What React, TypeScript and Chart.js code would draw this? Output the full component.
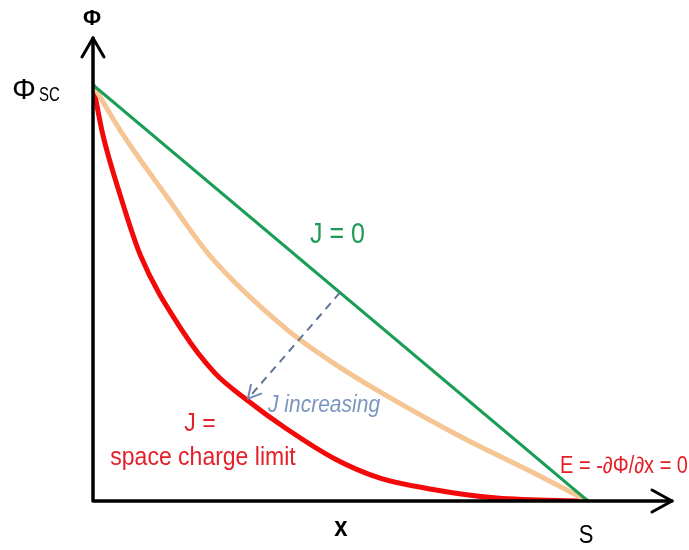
import React, { useEffect, useRef } from "react";
import { Chart, registerables } from "chart.js";

Chart.register(...registerables);

// Position along the gap (x / S) and normalized potential (Φ / Φsc)
const greenX = [0, 1];
const greenY = [1, 0];

const tanX = [0, 0.061, 0.147, 0.236, 0.394, 0.479, 0.586, 0.747, 0.883, 1];
const tanY = [1, 0.88, 0.735, 0.59, 0.41, 0.337, 0.258, 0.152, 0.072, 0];

const redX = [0, 0.02, 0.055, 0.096, 0.18, 0.246, 0.313, 0.388, 0.489, 0.58, 0.681, 0.816, 1];
const redY = [1, 0.88, 0.735, 0.59, 0.41, 0.308, 0.241, 0.176, 0.101, 0.055, 0.029, 0.007, 0];

const arrowFrom = { x: 0.499, y: 0.501 };
const arrowTo = { x: 0.313, y: 0.246 };

const xMax = 1.17;
const yMax = 1.113;

const pts = (xs: number[], ys: number[]) => xs.map((x, i) => ({ x, y: ys[i] }));

const FONT = "'Liberation Sans', Arial, sans-serif";

function txt(
  ctx: CanvasRenderingContext2D,
  s: string,
  x: number,
  y: number,
  font: string,
  color: string,
  align: CanvasTextAlign = "left",
  sy = 1.15
) {
  ctx.save();
  ctx.translate(x, y);
  ctx.scale(1, sy);
  ctx.font = font;
  ctx.fillStyle = color;
  ctx.textAlign = align;
  ctx.textBaseline = "alphabetic";
  ctx.fillText(s, 0, 0);
  ctx.restore();
}

const decorPlugin = {
  id: "decor",
  afterDatasetsDraw(chart: any) {
    const { ctx, scales } = chart;
    const xs = scales.x;
    const ys = scales.y;
    const x0 = xs.getPixelForValue(0);
    const y0 = ys.getPixelForValue(0);
    const xEnd = xs.getPixelForValue(xMax);
    const yEnd = ys.getPixelForValue(yMax);
    ctx.save();
    // axes
    ctx.strokeStyle = "#000";
    ctx.lineWidth = 3.5;
    ctx.lineCap = "round";
    ctx.lineJoin = "round";
    ctx.beginPath();
    ctx.moveTo(x0, y0);
    ctx.lineTo(x0, yEnd);
    ctx.moveTo(x0, y0);
    ctx.lineTo(xEnd, y0);
    ctx.stroke();
    ctx.lineWidth = 3;
    ctx.beginPath();
    ctx.moveTo(x0 - 11, yEnd + 19);
    ctx.lineTo(x0, yEnd);
    ctx.lineTo(x0 + 11, yEnd + 19);
    ctx.moveTo(xEnd - 20, y0 - 11);
    ctx.lineTo(xEnd, y0);
    ctx.lineTo(xEnd - 20, y0 + 11);
    ctx.stroke();

    // dashed arrow
    const ax = xs.getPixelForValue(arrowFrom.x);
    const ay = ys.getPixelForValue(arrowFrom.y);
    const bx = xs.getPixelForValue(arrowTo.x);
    const by = ys.getPixelForValue(arrowTo.y);
    ctx.strokeStyle = "#5f7596";
    ctx.lineWidth = 2;
    ctx.lineCap = "butt";
    ctx.setLineDash([8, 6]);
    ctx.beginPath();
    ctx.moveTo(ax, ay);
    ctx.lineTo(bx, by);
    ctx.stroke();
    ctx.setLineDash([]);
    const ang = Math.atan2(by - ay, bx - ax);
    const hl = 15;
    ctx.lineWidth = 2;
    ctx.strokeStyle = "#6f88b4";
    ctx.beginPath();
    ctx.moveTo(bx - hl * Math.cos(ang - 0.5), by - hl * Math.sin(ang - 0.5));
    ctx.lineTo(bx, by);
    ctx.lineTo(bx - hl * Math.cos(ang + 0.5), by - hl * Math.sin(ang + 0.5));
    ctx.stroke();
    ctx.restore();

    // texts
    txt(ctx, "Φ", x0 - 1, 25, `bold 22px ${FONT}`, "#000", "center", 1.0);
    txt(ctx, "x", 341, 536, `bold 24px ${FONT}`, "#000", "center", 1.15);
    txt(ctx, "S", 586, 543, `22px ${FONT}`, "#000", "center", 1.15);

    txt(ctx, "Φ", 12, 99, `30px ${FONT}`, "#000", "left", 1.0);
    txt(ctx, "SC", 39, 101, `15px ${FONT}`, "#000", "left", 1.3);

    txt(ctx, "J = 0", 310, 243, `25px ${FONT}`, "#1f9a55", "left", 1.15);
    txt(ctx, "J increasing", 268, 412, `italic 21px ${FONT}`, "#7a95c0", "left", 1.1);

    txt(ctx, "J =", 200, 431, `23px ${FONT}`, "#e3202a", "center", 1.15);
    txt(ctx, "space charge limit", 203, 465, `23px ${FONT}`, "#e3202a", "center", 1.15);
    txt(ctx, "E = -∂Φ/∂x = 0", 560, 473, `20px ${FONT}`, "#e3202a", "left", 1.15);
  },
};

export default function App() {
  const ref = useRef<HTMLCanvasElement>(null);
  useEffect(() => {
    if (!ref.current) return;
    const chart = new Chart(ref.current, {
      type: "scatter",
      data: {
        datasets: [
          {
            label: "J = 0",
            data: pts(greenX, greenY),
            showLine: true,
            borderColor: "#1a9e55",
            borderWidth: 3,
            pointRadius: 0,
          },
          {
            label: "intermediate J",
            data: pts(tanX, tanY),
            showLine: true,
            borderColor: "#f5c594",
            borderWidth: 5,
            pointRadius: 0,
            cubicInterpolationMode: "monotone",
          },
          {
            label: "space charge limit",
            data: pts(redX, redY),
            showLine: true,
            borderColor: "#f20a0a",
            borderWidth: 5,
            pointRadius: 0,
            cubicInterpolationMode: "monotone",
          },
        ],
      } as any,
      options: {
        responsive: false,
        animation: false,
        layout: { padding: { left: 93, top: 38, right: 17, bottom: 49 } },
        plugins: { legend: { display: false }, tooltip: { enabled: false } },
        scales: {
          x: { type: "linear", min: 0, max: xMax, display: false },
          y: { type: "linear", min: 0, max: yMax, display: false },
        },
      },
      plugins: [decorPlugin],
    });
    return () => chart.destroy();
  }, []);
  return (
    <div style={{ position: "fixed", left: 0, top: 0, width: 689, height: 550, background: "#fff" }}>
      <canvas ref={ref} width={689} height={550} />
    </div>
  );
}
